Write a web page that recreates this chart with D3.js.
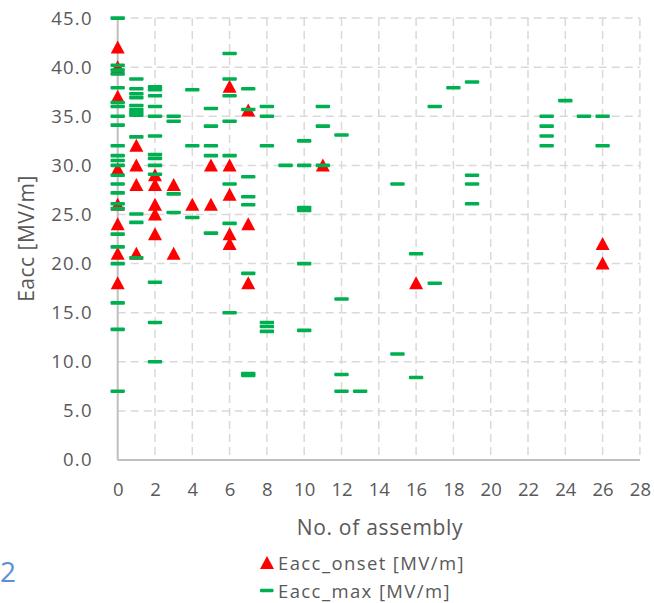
<!DOCTYPE html>
<html>
<head>
<meta charset="utf-8">
<script src="https://cdn.jsdelivr.net/npm/d3@7"></script>
<style>
  html, body { margin: 0; padding: 0; background: #fff; }
  svg { display: block; font-family: "Open Sans", "Noto Sans", sans-serif; }
</style>
</head>
<body>
<svg id="chart" width="654" height="603"></svg>
<script>
// Assembly numbers and field values [MV/m]
const onsetX = [0,0,0,0,0,0,0,0, 1,1,1,1, 2,2,2,2,2, 3,3, 4, 5,5, 6,6,6,6,6, 7,7,7, 11, 16, 26,26];
const onsetY = [42,40,37,29.6,26,24,21,18, 32,30,28,21, 29,28,26,25,23, 28,21, 26, 30,26, 38,30,27,23,22, 35.6,24,18, 30, 18, 22,20];

const maxX = [
  0,0,0,0,0,0,0,0,0,0,0,0,0,0,0,0,0,0,0,0,0,0,0,0,
  1,1,1,1,1,1,1,1,1,1,1,1,
  2,2,2,2,2,2,2,2,2,2,2,2,2,
  3,3,3,3,
  4,4,4,
  5,5,5,5,5,
  6,6,6,6,6,6,6,6,
  7,7,7,7,7,7,7,7,
  8,8,8,8,8,8,
  9,
  10,10,10,10,10,10,
  11,11,11,
  12,12,12,12,
  13,
  15,15,
  16,16,
  17,17,
  18,
  19,19,19,19,
  23,23,23,23,
  24,
  25,
  26,26
];
const maxY = [
  45,40.2,39.7,39.3,37.9,36.4,36.0,35.0,34.1,32.0,31.0,30.5,30.0,29.0,28.1,27.2,26.1,25.6,23.0,21.7,20.0,16.0,13.3,7.0,
  38.8,37.8,37.3,36.9,36.1,35.7,35.4,35.1,32.9,25.05,24.2,20.6,
  38.0,37.7,37.1,36.0,35.0,33.0,31.1,30.7,30.0,29.1,18.1,14.0,10.0,
  35.0,34.5,27.1,25.2,
  37.7,32.0,24.7,
  35.8,34.0,32.0,31.0,23.1,
  41.4,38.8,37.1,34.5,31.0,28.1,24.1,15.0,
  37.8,35.7,28.85,26.8,26.0,19.0,8.8,8.6,
  36.0,35.0,32.0,14.0,13.6,13.1,
  30.0,
  32.5,30.0,25.7,25.4,20.0,13.2,
  36.0,34.0,30.0,
  33.1,16.4,8.7,7.0,
  7.0,
  28.1,10.8,
  21.0,8.4,
  36.0,18.0,
  37.9,
  38.5,29.0,28.1,26.1,
  35.0,34.0,33.0,32.0,
  36.6,
  35.0,
  35.0,32.0
];

const xTicks = d3.range(0, 29, 2);
const yTicks = d3.range(0, 46, 5);
const seriesNames = ["Eacc_onset [MV/m]", "Eacc_max [MV/m]"];
const xTitle = "No. of assembly";
const yTitle = "Eacc [MV/m]";

const onset = onsetX.map((x, i) => ({x, y: onsetY[i]}));
const emax = maxX.map((x, i) => ({x, y: maxY[i]}));

const svg = d3.select("#chart");
const textColor = "#595959";
const red = "#ff0000", green = "#00b050";

const x = d3.scaleLinear().domain([0, 28]).range([117.7, 639.9]);
const y = d3.scaleLinear().domain([0, 45]).range([460, 18.1]);

// dashed gridlines
const grid = svg.append("g").attr("stroke", "#d9d9d9").attr("stroke-width", 1.5)
  .attr("stroke-dasharray", "8,5");
grid.selectAll("line.h").data(yTicks.filter(d => d > 0)).join("line")
  .attr("class", "h")
  .attr("x1", x(0)).attr("x2", x(28))
  .attr("y1", d => y(d)).attr("y2", d => y(d));
grid.selectAll("line.v").data(xTicks.filter(d => d > 0)).join("line")
  .attr("class", "v")
  .attr("x1", d => x(d)).attr("x2", d => x(d))
  .attr("y1", y(45)).attr("y2", y(0));

// axes (labels only) + solid axis lines
const xAxis = svg.append("g").attr("transform", `translate(0,${y(0)})`)
  .call(d3.axisBottom(x).tickValues(xTicks).tickSize(0).tickPadding(23).tickFormat(d3.format("d")));
const yAxis = svg.append("g").attr("transform", `translate(${x(0)},0)`)
  .call(d3.axisLeft(y).tickValues(yTicks).tickSize(0).tickPadding(25).tickFormat(d3.format(".1f")));
[xAxis, yAxis].forEach(g => {
  g.select(".domain").remove();
  g.selectAll("text").attr("fill", textColor).style("font-size", "18.5px")
    .style("font-family", "'Open Sans', 'Noto Sans', sans-serif");
});
yAxis.selectAll("text").style("letter-spacing", "1.2px");

svg.append("line").attr("x1", x(0)).attr("x2", x(28)).attr("y1", y(0)).attr("y2", y(0))
  .attr("stroke", "#bfbfbf").attr("stroke-width", 2);
svg.append("line").attr("x1", x(0)).attr("x2", x(0)).attr("y1", y(0)).attr("y2", y(45))
  .attr("stroke", "#bfbfbf").attr("stroke-width", 2);

// markers: onset triangles below, max dashes drawn on top
const triPath = "M0,-7L7,6L-7,6Z";
svg.append("g").selectAll("path").data(onset).join("path")
  .attr("d", triPath)
  .attr("transform", d => `translate(${x(d.x)},${y(d.y)})`)
  .attr("fill", red);

svg.append("g").selectAll("rect").data(emax).join("rect")
  .attr("x", d => x(d.x) - 7.2).attr("y", d => y(d.y) - 1.8)
  .attr("width", 14.4).attr("height", 3.6).attr("rx", 1)
  .attr("fill", green);

// axis titles
svg.append("text").attr("x", 380).attr("y", 534.5).attr("text-anchor", "middle")
  .attr("fill", textColor).style("font-size", "21px").style("letter-spacing", "0.7px").text(xTitle);
svg.append("text").attr("transform", "translate(33.5,238.5) rotate(-90)").attr("text-anchor", "middle")
  .attr("fill", textColor).style("font-size", "21px").style("letter-spacing", "0.5px").text(yTitle);

// legend
const legend = svg.append("g");
const lg = [{name: seriesNames[0], base: 569.5, mark: 563}, {name: seriesNames[1], base: 597.5, mark: 590.5}];
legend.append("path").attr("d", triPath).attr("transform", `translate(267,${lg[0].mark})`).attr("fill", red);
legend.append("rect").attr("x", 260).attr("y", lg[1].mark - 1.8).attr("width", 13.5).attr("height", 3.6)
  .attr("rx", 1).attr("fill", green);
legend.selectAll("text").data(lg).join("text")
  .attr("x", 278).attr("y", d => d.base)
  .attr("fill", textColor).style("font-size", "18.5px").style("letter-spacing", "1.4px").text(d => d.name);

// caption digit at the lower-left edge
svg.append("text").attr("x", 0).attr("y", 582)
  .attr("fill", "#5b8fd6").style("font-size", "28px").text("2");
</script>
</body>
</html>
